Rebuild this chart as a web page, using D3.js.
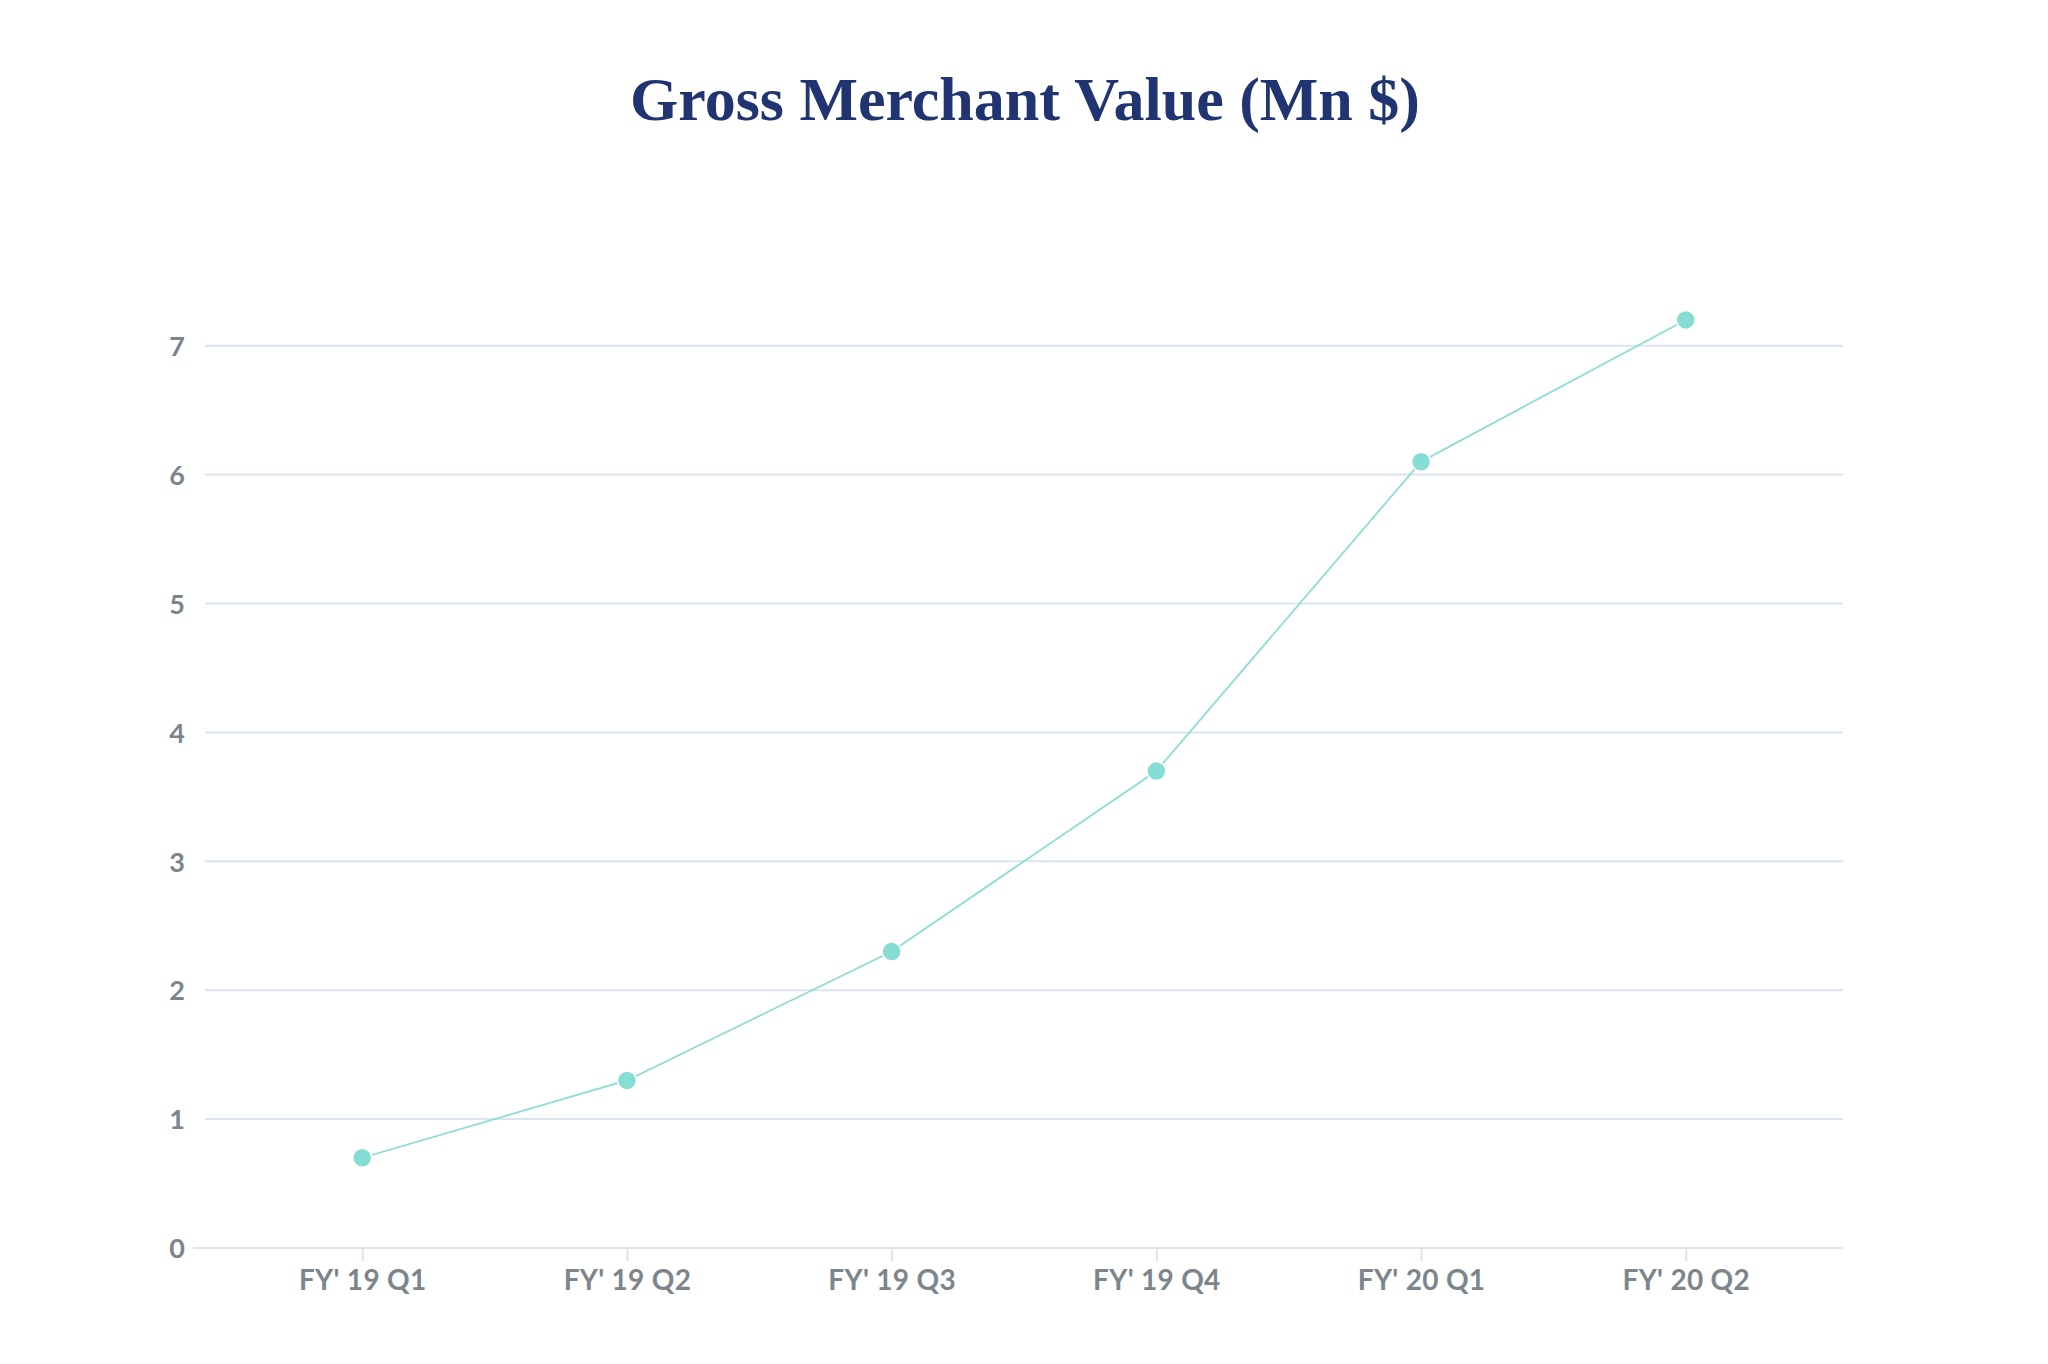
<!DOCTYPE html>
<html><head><meta charset="utf-8">
<script src="https://cdn.jsdelivr.net/npm/d3@7"></script>
<style>html,body{margin:0;padding:0;background:#fff;}</style>
</head><body>
<svg id="chart" width="2048" height="1364"></svg>
<script>
const categories = ["FY' 19 Q1","FY' 19 Q2","FY' 19 Q3","FY' 19 Q4","FY' 20 Q1","FY' 20 Q2"];
const gmvValues = [0.7, 1.3, 2.3, 3.7, 6.1, 7.2];
const yTicks = [0,1,2,3,4,5,6,7];
const titleText = "Gross Merchant Value (Mn $)";

const svg = d3.select("#chart");
const gridColor = "#dce5ee";
const textColor = "#7d858c";
const lineColor = "#86ddd3";

const x = d3.scalePoint().domain(categories).range([205, 1843]).padding(0.594);
const y = d3.scaleLinear().domain([0, 7]).range([1248, 345.7]);

svg.append("text").attr("x", 1025).attr("y", 120).attr("text-anchor", "middle")
  .attr("font-family", "'Liberation Serif','Times New Roman',serif").attr("font-weight", "bold")
  .attr("font-size", 62).attr("fill", "#1f3470").text(titleText);

// gridlines
svg.append("g").selectAll("line").data(yTicks.filter(d => d > 0)).join("line")
  .attr("x1", 205).attr("x2", 1843).attr("y1", d => y(d)).attr("y2", d => y(d))
  .attr("stroke", gridColor).attr("stroke-width", 2);

// y axis labels
const yAxis = d3.axisLeft(y).tickValues(yTicks).tickFormat(d3.format("d")).tickSize(0).tickPadding(0);
const gy = svg.append("g").attr("transform", "translate(185,0)").call(yAxis);
gy.select(".domain").remove();
gy.selectAll("text").attr("font-family", "Lato, 'Open Sans', sans-serif").attr("font-weight", "bold")
  .attr("font-size", 27).attr("fill", textColor).attr("dy", "0.36em");

// x axis
const xAxis = d3.axisBottom(x).tickSize(13).tickPadding(9).tickSizeOuter(0);
const gx = svg.append("g").attr("transform", `translate(0,${y(0)})`).call(xAxis);
gx.select(".domain").attr("d", "M193,0H1843").attr("stroke", gridColor).attr("stroke-width", 2);
gx.selectAll(".tick line").attr("stroke", gridColor).attr("stroke-width", 2);
gx.selectAll("text").attr("font-family", "Lato, 'Open Sans', sans-serif").attr("font-weight", "bold")
  .attr("font-size", 28).attr("fill", textColor).attr("letter-spacing", "0.3px");

const data = categories.map((c, i) => ({c, v: gmvValues[i]}));
svg.append("path").datum(data)
  .attr("d", d3.line().x(d => x(d.c)).y(d => y(d.v)))
  .attr("fill", "none").attr("stroke", lineColor).attr("stroke-width", 1.7);

svg.append("g").selectAll("circle").data(data).join("circle")
  .attr("cx", d => x(d.c)).attr("cy", d => y(d.v)).attr("r", 9.5)
  .attr("fill", lineColor).attr("stroke", "#fff").attr("stroke-width", 1.5);
</script>
</body></html>
